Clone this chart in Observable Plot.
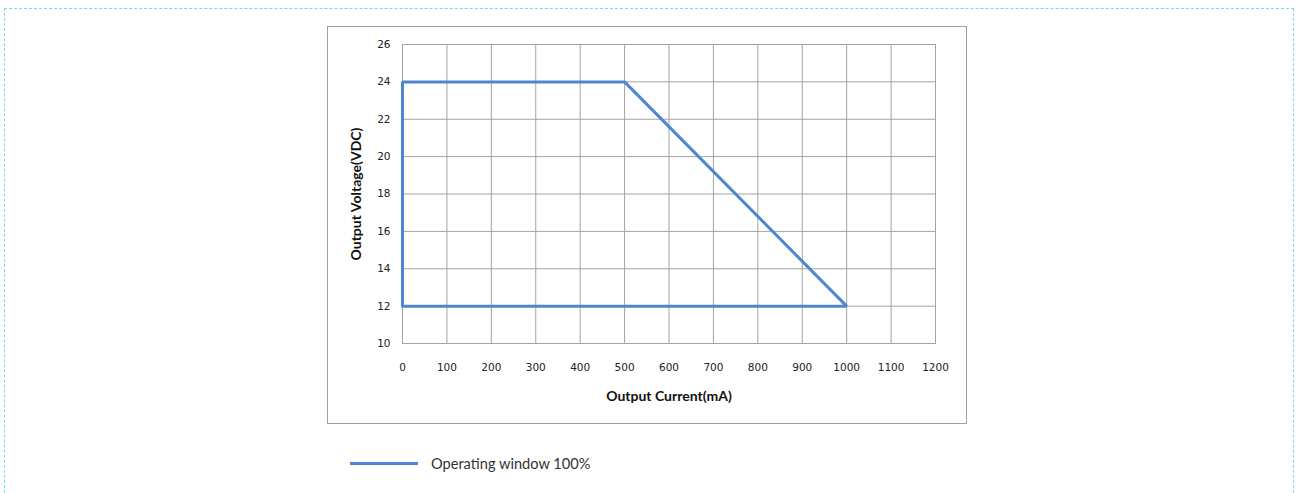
<!DOCTYPE html>
<html>
<head>
<meta charset="utf-8">
<script src="https://cdn.jsdelivr.net/npm/d3@7"></script>
<script src="https://cdn.jsdelivr.net/npm/@observablehq/plot@0.6"></script>
<style>
  html, body { margin: 0; padding: 0; background: #fff; width: 1297px; height: 493px; overflow: hidden; }
  #outer { position: absolute; left: 4px; top: 8px; width: 1290px; height: 520px; border: 1px dashed #7fd3f2; box-sizing: border-box; }
  #box { position: absolute; left: 327px; top: 26px; width: 638px; height: 396px; border: 1px solid #a0a0a0; background: #fff; }
  #box svg { display: block; }
  #legend { position: absolute; left: 350px; top: 452px; height: 22px; display: flex; align-items: center; font-family: Lato, "Open Sans", sans-serif; font-size: 14.6px; color: #333; }
  #legend .sw { width: 68px; height: 3px; background: #4e86d0; margin-right: 13px; }
</style>
</head>
<body>
<div id="outer"></div>
<div id="box"></div>
<div id="legend"><span class="sw"></span><span id="legtext"></span></div>
<script>
// Data
const current = [0, 0, 500, 1000, 0];        // Output Current (mA)
const voltage = [12, 24, 24, 12, 12];        // Output Voltage (VDC)
const seriesName = "Operating window 100%";
const xTicks = [0, 100, 200, 300, 400, 500, 600, 700, 800, 900, 1000, 1100, 1200];
const yTicks = [10, 12, 14, 16, 18, 20, 22, 24, 26];
const xTitle = "Output Current(mA)";
const yTitle = "Output Voltage(VDC)";

const pts = current.map((c, i) => ({current: c, voltage: voltage[i]}));
const gridColor = "#a3a3a3";
const lineColor = "#4e86d0";

const chart = Plot.plot({
  width: 638,
  height: 396,
  marginLeft: 74,
  marginRight: 31,
  marginTop: 17,
  marginBottom: 80,
  style: {background: "#fff", overflow: "visible", fontFamily: "'DejaVu Sans', sans-serif", fontSize: "11px"},
  x: {domain: [0, 1200], ticks: xTicks},
  y: {domain: [10, 26], ticks: yTicks},
  marks: [
    Plot.ruleX(xTicks, {stroke: gridColor, strokeWidth: 1, strokeOpacity: 1}),
    Plot.ruleY(yTicks, {stroke: gridColor, strokeWidth: 1, strokeOpacity: 1}),
    Plot.frame({stroke: gridColor, strokeWidth: 1}),
    Plot.axisX(xTicks, {tickSize: 0, tickPadding: 20, label: null, tickFormat: d => String(d), fontSize: 10.5, fill: "#222"}),
    Plot.axisY(yTicks, {tickSize: 0, tickPadding: 12, label: null, tickFormat: d => String(d), fontSize: 10.5, fill: "#222"}),
    Plot.line(pts, {x: "current", y: "voltage", stroke: lineColor, strokeWidth: 3, strokeLinejoin: "miter", curve: "linear"}),
    Plot.text([xTitle], {frameAnchor: "bottom", textAnchor: "middle", dy: 57, fontWeight: "bold", fontSize: 14, fontFamily: "Lato", fill: "#111"}),
    Plot.text([yTitle], {frameAnchor: "left", textAnchor: "middle", dx: -46, rotate: -90, fontWeight: "bold", fontSize: 14, fontFamily: "Lato", fill: "#111"})
  ]
});
document.getElementById("box").appendChild(chart);
document.getElementById("legtext").textContent = seriesName;
</script>
</body>
</html>
